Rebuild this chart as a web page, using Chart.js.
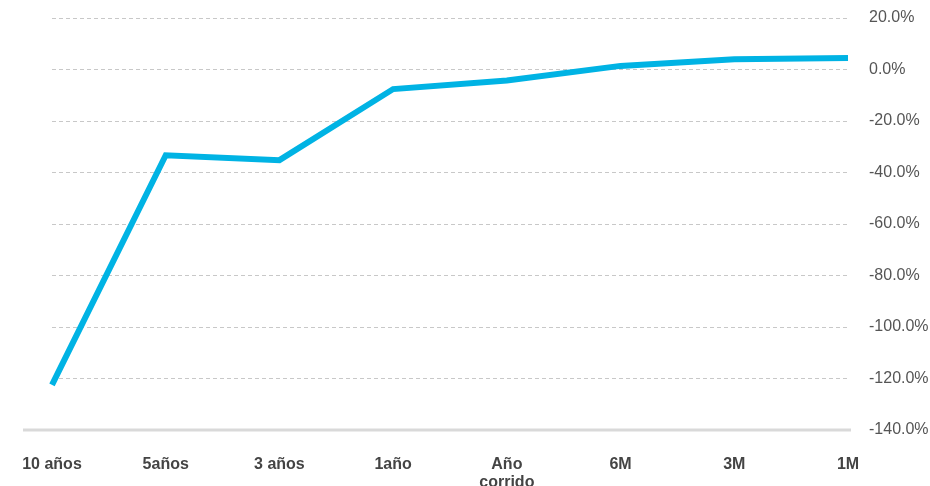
<!DOCTYPE html>
<html>
<head>
<meta charset="utf-8">
<script src="https://cdn.jsdelivr.net/npm/chart.js@4.4.0/dist/chart.umd.min.js"></script>
<style>
  html, body { margin: 0; padding: 0; background: #fff; }
  #wrap { width: 930px; height: 486px; position: relative; }
</style>
</head>
<body>
<div id="wrap"><canvas id="c"></canvas></div>
<script>
const categories = ["10 años", "5años", "3 años", "1año", ["Año", "corrido"], "6M", "3M", "1M"];
const seriesValues = [-122.5, -33.3, -35.2, -7.6, -4.3, 1.4, 4.0, 4.5];
const yTicks = [20, 0, -20, -40, -60, -80, -100, -120, -140];

const baselinePlugin = {
  id: 'baseline',
  beforeDatasetsDraw(chart) {
    const y = chart.scales.y.getPixelForValue(yTicks[yTicks.length - 1]);
    const a = chart.chartArea;
    const ctx = chart.ctx;
    ctx.save();
    ctx.strokeStyle = '#d9d9d9';
    ctx.lineWidth = 3;
    ctx.beginPath();
    ctx.moveTo(a.left - 29, y);
    ctx.lineTo(a.right + 3, y);
    ctx.stroke();
    ctx.restore();
  }
};

new Chart(document.getElementById('c'), {
  type: 'line',
  data: {
    labels: categories,
    datasets: [{
      data: seriesValues,
      borderColor: '#00b3e4',
      borderWidth: 6,
      pointRadius: 0,
      tension: 0,
      fill: false
    }]
  },
  plugins: [baselinePlugin],
  options: {
    responsive: true,
    maintainAspectRatio: false,
    animation: false,
    layout: { padding: { left: 52, top: 18, right: 0, bottom: 0 } },
    plugins: { legend: { display: false }, tooltip: { enabled: false } },
    scales: {
      x: {
        grid: { display: false },
        border: { display: false },
        ticks: {
          color: '#444',
          font: { family: 'Liberation Sans', size: 16, weight: 'bold', lineHeight: 1.1 },
          padding: 18,
          maxRotation: 0,
          autoSkip: false
        },
        afterFit(s) { s.height = 56; }
      },
      y: {
        position: 'right',
        min: -140,
        max: 20,
        afterBuildTicks(s) { s.ticks = yTicks.map(v => ({ value: v })); },
        grid: {
          drawTicks: true,
          tickLength: 21,
          tickColor: 'rgba(0,0,0,0)',
          color: (c) => c.tick && c.tick.value === -140 ? 'rgba(0,0,0,0)' : '#c8c8c8',
          lineWidth: 1
        },
        border: { display: false, dash: [4, 3] },
        ticks: {
          color: '#555',
          font: { family: 'Liberation Sans', size: 16 },
          padding: 0,
          crossAlign: 'near',
          callback: (v) => v.toFixed(1) + '%'
        },
        afterFit(s) { s.width = 82; }
      }
    }
  }
});
</script>
</body>
</html>
